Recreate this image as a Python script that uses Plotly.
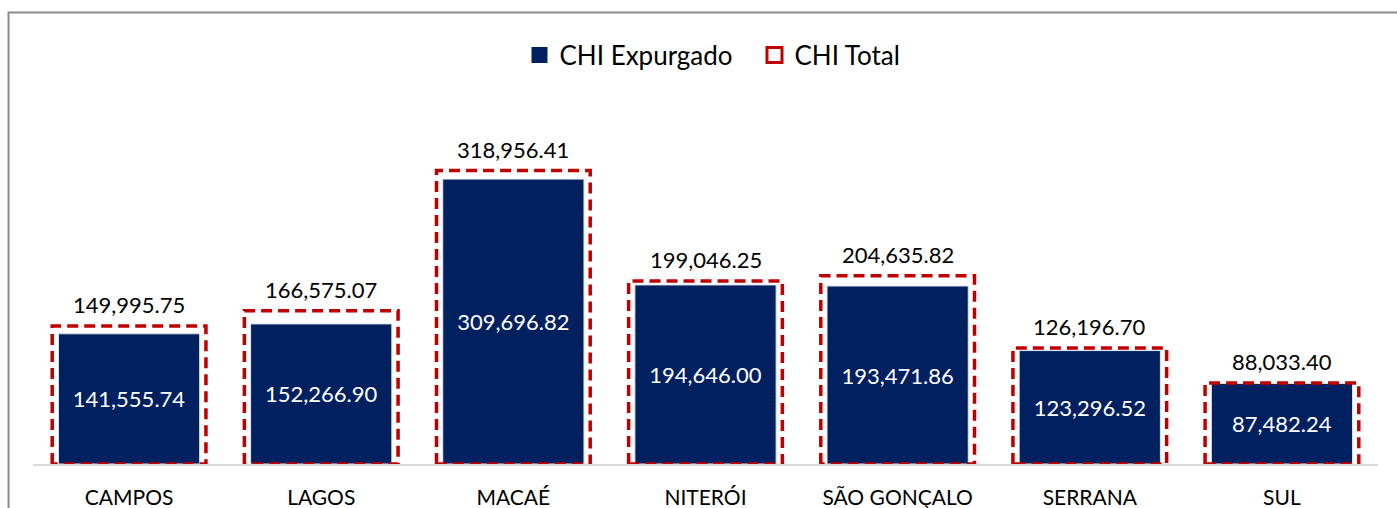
import plotly.graph_objects as go

categories = ["CAMPOS", "LAGOS", "MACAÉ", "NITERÓI", "SÃO GONÇALO", "SERRANA", "SUL"]
chi_expurgado = [141555.74, 152266.90, 309696.82, 194646.00, 193471.86, 123296.52, 87482.24]
chi_total = [149995.75, 166575.07, 318956.41, 199046.25, 204635.82, 126196.70, 88033.40]

NAVY = "#002060"
RED = "#C00000"
FONT = "Lato"

def fmt(v):
    return f"{v:,.2f}"

idx = list(range(len(categories)))
half = 0.4

# dashed outline path for CHI Total built from data
ox, oy = [], []
for i, t in zip(idx, chi_total):
    ox += [i - half, i - half, i + half, i + half, i - half, None]
    oy += [0, t, t, 0, 0, None]

fig = go.Figure()

fig.add_trace(go.Bar(
    x=idx, y=chi_expurgado, name="CHI Expurgado", width=0.735,
    marker=dict(color=NAVY, line=dict(color="#dfe6f2", width=1)),
    text=[fmt(v) for v in chi_expurgado], textposition="inside",
    insidetextanchor="middle", textangle=0, constraintext="none",
    textfont=dict(color="white", size=22, family=FONT),
    showlegend=False, legendgroup="exp",
))

fig.add_trace(go.Scatter(
    x=ox, y=oy, mode="lines", name="CHI Total", showlegend=False,
    legendgroup="total",
    line=dict(color=RED, width=3.5, dash="11px,6px"),
    hoverinfo="skip",
))

# legend-only entries
fig.add_trace(go.Scatter(
    x=[None], y=[None], mode="markers", name="CHI Expurgado", legendgroup="exp",
    marker=dict(symbol="square", size=17, color=NAVY),
    legendrank=1,
))
fig.add_trace(go.Scatter(
    x=[None], y=[None], mode="markers", name="CHI Total", legendgroup="total",
    marker=dict(symbol="square-open", size=15, color=RED, line=dict(width=3, color=RED)),
    legendrank=2,
))

for i, t in zip(idx, chi_total):
    fig.add_annotation(x=i, y=t, text=fmt(t), showarrow=False, yanchor="bottom",
                       yshift=6, font=dict(size=22, color="#000000", family=FONT))

# outer chart border
fig.add_shape(type="rect", xref="paper", yref="paper",
              x0=-0.0182, x1=1.2, y0=-0.3, y1=1.2269,
              line=dict(color="#8c8c8c", width=2), layer="below")

fig.update_layout(
    width=1397, height=508,
    margin=dict(l=33, r=19, t=96, b=44, autoexpand=False),
    paper_bgcolor="white", plot_bgcolor="white",
    barmode="overlay",
    font=dict(family=FONT, color="#000000"),
    showlegend=True,
    legend=dict(orientation="h", x=0.3617, xanchor="left", y=1.111, yanchor="middle",
                font=dict(size=26, family=FONT), itemwidth=30,
                entrywidth=190, entrywidthmode="pixels",
                traceorder="normal"),
    xaxis=dict(
        range=[-0.5, len(categories) - 0.5], automargin=False,
        tickmode="array", tickvals=idx, ticktext=categories,
        showgrid=False, zeroline=False, showline=True, linecolor="#d9d9d9", linewidth=2,
        ticks="", tickfont=dict(size=21, family=FONT, color="#000000"),
        ticklabelstandoff=14,
    ),
    yaxis=dict(range=[0, 400000], visible=False, showgrid=False, zeroline=False,
               automargin=False),
)

fig.write_html("out.html")
